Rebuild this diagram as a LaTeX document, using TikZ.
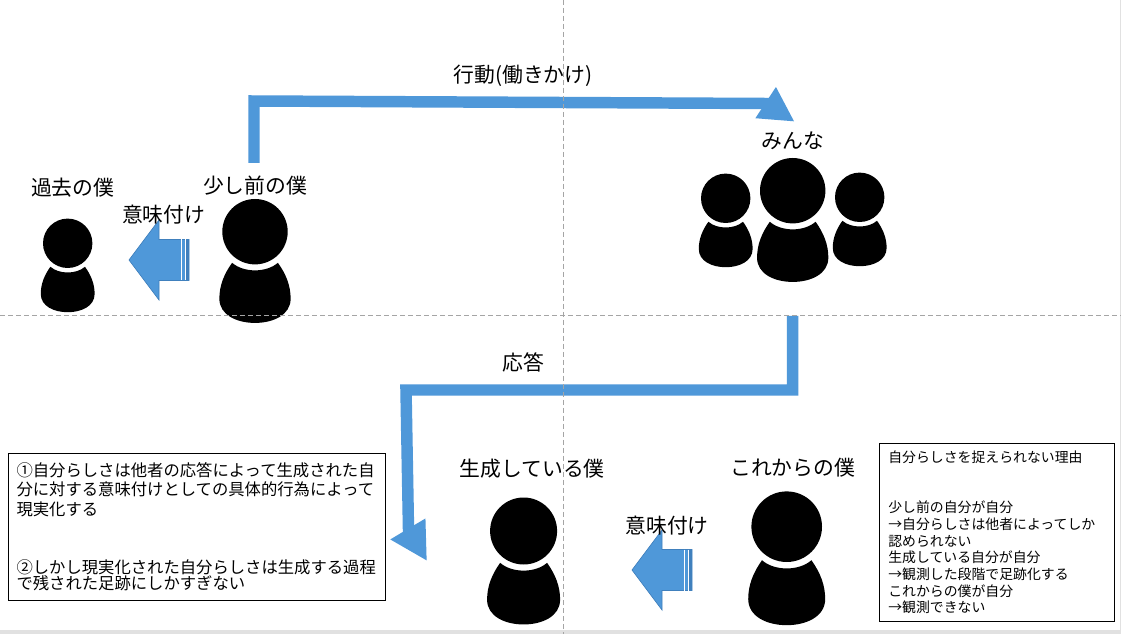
\documentclass[tikz,border=0pt]{standalone}
\usepackage{fontspec}
\usepackage{xcolor}
\usetikzlibrary{positioning, arrows.meta}
\setmainfont{Noto Sans CJK JP}
\definecolor{arrowblue}{RGB}{79, 152, 217}
\definecolor{arrowedge}{RGB}{64, 128, 189}
\definecolor{guidegray}{RGB}{165, 165, 165}
\definecolor{bandgray}{RGB}{225, 225, 225}

\tikzset{
    person/.pic={
        \fill[black] (0,0) circle[radius=1];
        \fill[black] (-0.70,0.95) .. controls (-0.35,1.26) and (0.35,1.26) .. (0.70,0.95)
            .. controls (0.95,1.30) and (1.09,1.65) .. (1.09,2.05)
            .. controls (1.09,2.55) and (0.55,2.79) .. (0,2.79)
            .. controls (-0.55,2.79) and (-1.09,2.55) .. (-1.09,2.05)
            .. controls (-1.09,1.65) and (-0.95,1.30) .. (-0.70,0.95) -- cycle;
        \coordinate (-top) at (0,-1);
    },
    meaningarrow/.pic={
        \filldraw[fill=arrowblue, draw=arrowedge, line width=0.5pt] (0,0) -- (30,-40) -- (30,-20.5)
            -- (60,-20.5) -- (60,20.5) -- (30,20.5) -- (30,40) -- cycle;
        \fill[arrowedge] (56,-20.5) rectangle (60,20.5);
        \draw[white, line width=0.7pt] (52,-20.5) -- (52,20.5);
        \draw[white, line width=0.7pt] (56,-20.5) -- (56,20.5);
    }
}

\begin{document}
\begin{tikzpicture}[
    x=0.75pt, y=-0.75pt,
    jlabel/.style={font=\fontsize{15.6}{18}\selectfont, inner sep=0pt},
    bigarrow/.style={draw=arrowblue, line width=8.6pt, line join=miter},
    guide/.style={draw=guidegray, line width=0.6pt, dash pattern=on 4pt off 2pt},
    notebox/.style={rectangle, draw=black, line width=0.6pt, align=left, anchor=north west, inner sep=0pt}
]
    \useasboundingbox (0,0) rectangle (1121,634);
    \fill[white] (0,0) rectangle (1121,634);
    \fill[bandgray] (0,630) rectangle (1121,634);
    \fill[bandgray] (1119.5,0) rectangle (1121,634);

    % People
    \pic[scale=24.7] (kako) at (67.7,243.3) {person};
    \pic[scale=32.7] (mae) at (255,231.7) {person};
    \pic[scale=24.7] (minnaL) at (725.7,198.3) {person};
    \pic[scale=32.7] (minnaC) at (792.7,190.7) {person};
    \pic[scale=24.7] (minnaR) at (859.7,197.3) {person};
    \pic[scale=33.5] (seisei) at (523.6,531) {person};
    \pic[scale=35.3] (korekara) at (786.7,526.7) {person};

    % Meaning arrows
    \pic at (129,260) {meaningarrow};
    \pic at (632,570) {meaningarrow};

    % Labels
    \node[jlabel, above=15.8pt of kako-top, xshift=3.7pt] (kakolabel) {過去の僕};
    \node[jlabel, above=2.4pt of mae-top] (maelabel) {少し前の僕};
    \node[jlabel, above=6pt of minnaC-top] (minnalabel) {みんな};
    \node[jlabel, above=14pt of seisei-top, xshift=6.5pt] (seiseilabel) {生成している僕};
    \node[jlabel, above=10.5pt of korekara-top, xshift=4.5pt] (korekaralabel) {これからの僕};
    \node[jlabel] (imi1) at (163.7,215) {意味付け};
    \node[jlabel] (imi2) at (667,525.7) {意味付け};
    \node[jlabel] (koudou) at (523,76) {行動(働きかけ)};
    \node[jlabel] (outou) at (523,362) {応答};

    % Big arrows
    \coordinate (koudoustart) at (254,163);
    \coordinate (koudouend) at (794.6,121.7);
    \coordinate (outoustart) at (792.7,316);
    \coordinate (outouend) at (427,561);
    \draw[bigarrow, -{Triangle[length=26pt, width=26pt]}] (koudoustart) -- (254,101) -- (767,103.5) -- (koudouend);
    \draw[bigarrow, -{Triangle[length=28pt, width=28.5pt]}] (outoustart) -- (792.7,390) -- (406,390) -- (408.5,530) -- (outouend);

    % Text boxes
    \node[notebox, minimum width=283pt, minimum height=110.2pt, text width=283pt] (note1) at (7.5,453)
        {\fontsize{12.25}{14.6}\selectfont\hspace*{6.5pt}①自分らしさは他者の応答によって生成された自\\
        \hspace*{6.5pt}分に対する意味付けとしての具体的行為によって\\
        \hspace*{6.5pt}現実化する\\[29.2pt]
        \hspace*{6.5pt}②しかし現実化された自分らしさは生成する過程\\
        \hspace*{6.5pt}で残された足跡にしかすぎない};
    \node[notebox, minimum width=176pt, minimum height=133.5pt, text width=176pt] (note2) at (879.3,443)
        {\fontsize{10.4}{12.5}\selectfont\hspace*{6.5pt}自分らしさを捉えられない理由\\[25pt]
        \hspace*{6.5pt}少し前の自分が自分\\
        \hspace*{6.5pt}→自分らしさは他者によってしか\\
        \hspace*{6.5pt}認められない\\
        \hspace*{6.5pt}生成している自分が自分\\
        \hspace*{6.5pt}→観測した段階で足跡化する\\
        \hspace*{6.5pt}これからの僕が自分\\
        \hspace*{6.5pt}→観測できない};

    % Guides
    \draw[guide] (563,0) -- (563,634);
    \draw[guide] (0,315.5) -- (1121,315.5);
\end{tikzpicture}
\end{document}
